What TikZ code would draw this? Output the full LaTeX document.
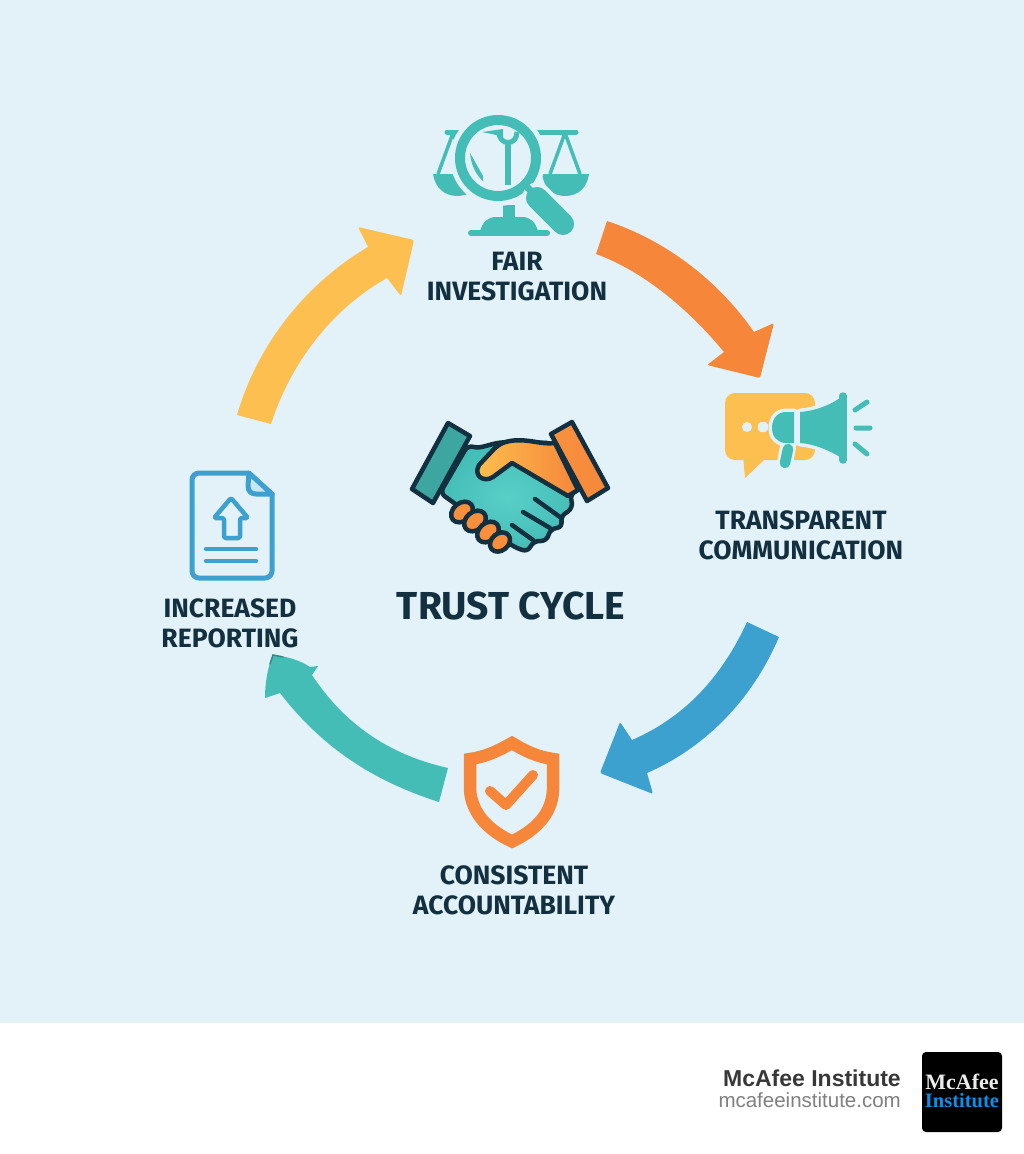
\documentclass[tikz,border=0pt]{standalone}
\usepackage{fontspec}
\setmainfont{Liberation Sans}
\newfontfamily\labelfont{Fira Sans}
\newfontfamily\logofont{Liberation Serif}
\definecolor{bgblue}{HTML}{E2F2F8}
\definecolor{ink}{HTML}{12303F}
\definecolor{teal}{HTML}{45BDB7}
\definecolor{tealhi}{HTML}{58D0C8}
\definecolor{sun}{HTML}{FDBF4F}
\definecolor{tang}{HTML}{F6873A}
\definecolor{sky}{HTML}{3CA1CF}
\definecolor{logoblue}{HTML}{0E8FE6}
\begin{document}
\begin{tikzpicture}[x=1pt,y=-1pt,
  lbl/.style={font=\labelfont\bfseries\fontsize{26.5}{30}\selectfont,text=ink,align=center,inner sep=0pt},
  hs/.style={draw=ink,line width=4.5pt,line join=round},
  finger/.style={hs,fill=tang!85!sun},
  halo/.style={draw=bgblue,line width=7pt,line join=round},
  ray/.style={draw=teal,line width=5pt,line cap=round}]
\useasboundingbox (0,0) rectangle (1024,1154);
\fill[bgblue] (0,0) rectangle (1024,1023);
\fill[white] (0,1023) rectangle (1024,1154);

% labels
\node[lbl] (fair) at (517,277) {FAIR\\INVESTIGATION};
\node[lbl] (transp) at (801,535) {TRANSPARENT\\COMMUNICATION};
\node[lbl] (consist) at (514,890) {CONSISTENT\\ACCOUNTABILITY};
\node[lbl] (incr) at (230,623) {INCREASED\\REPORTING};
\node[lbl,font=\labelfont\bfseries\fontsize{39}{42}\selectfont] (trust) at (511,606) {TRUST CYCLE};

% the four arrows
\coordinate (Ya) at (237,415); \coordinate (Yn) at (368,247); \coordinate (Yb) at (358,227); \coordinate (Yt) at (414,240);
\coordinate (Yc) at (401,296); \coordinate (Ym) at (387,278); \coordinate (Yz) at (271,424);
\fill[sun] (Ya) .. controls (262,330) and (320,275) .. (Yn) [rounded corners=2pt] -- (Yb) -- (Yt) -- (Yc) [sharp corners] -- (Ym) .. controls (330,310) and (290,365) .. (Yz) -- cycle;
\coordinate (Oa) at (607,221); \coordinate (On) at (754,332); \coordinate (Ob) at (774,323); \coordinate (Ot) at (760,378);
\coordinate (Oc) at (707,365); \coordinate (Om) at (724,352); \coordinate (Oz) at (596,254);
\fill[tang] (Oa) .. controls (665,240) and (718,280) .. (On) [rounded corners=2pt] -- (Ob) -- (Ot) -- (Oc) [sharp corners] -- (Om) .. controls (685,305) and (640,270) .. (Oz) -- cycle;
\coordinate (Ba) at (779,637); \coordinate (Bn) at (647,773); \coordinate (Bb) at (653,794); \coordinate (Bt) at (600,773);
\coordinate (Bc) at (620,722); \coordinate (Bm) at (632,740); \coordinate (Bz) at (747,622);
\fill[sky] (Ba) .. controls (750,705) and (700,750) .. (Bn) [rounded corners=2pt] -- (Bb) -- (Bt) -- (Bc) [sharp corners] -- (Bm) .. controls (690,715) and (725,670) .. (Bz) -- cycle;
\coordinate (Ta) at (439,802); \coordinate (Tn) at (280,693); \coordinate (Tb) at (265,698); \coordinate (Tt) at (273,655);
\coordinate (Tc) at (318,666); \coordinate (Tm) at (312,675); \coordinate (Tz) at (448,768);
\fill[teal] (Ta) .. controls (370,780) and (320,745) .. (Tn) -- (Tb) .. controls (265,682) and (268,666) .. (Tt) .. controls (285,656) and (300,660) .. (310,667) -- (Tc) -- (Tm) .. controls (345,725) and (390,755) .. (Tz) -- cycle;
\draw[teal!72!black,line width=1.5pt,line cap=round] (270,664) -- (Tt) -- (283,657);

% scales and magnifier
\draw[teal,line width=5pt,line cap=round] (447,132) -- (462,132) (537,132) -- (576,132);
\draw[teal,line width=3.5pt] (453,133) -- (438,174) (453,133) -- (468,174) (565,133) -- (550,174) (565,133) -- (580,174);
\fill[teal] (433,174) .. controls (435,188) and (445,196) .. (457,196) .. controls (470,196) and (480,188) .. (482,174) -- cycle;
\fill[teal] (542,174) .. controls (544,188) and (553,196) .. (565,196) .. controls (578,196) and (587,188) .. (589,174) -- cycle;
\fill[teal] (503,205) rectangle (515,222);
\fill[teal] (480,232) .. controls (482,222) and (488,217) .. (496,217) -- (522,217) .. controls (530,217) and (536,222) .. (538,232) -- cycle;
\draw[teal,line width=6pt,line cap=round] (471,233) -- (547,233);
\fill[bgblue] (498,158) circle (48);
\draw[teal,line width=10pt] (498,158) circle (38);
\draw[bgblue,line width=29pt,line cap=round] (537,197) -- (563,224);
\draw[teal,line width=7pt] (526,186) -- (538,198);
\draw[teal,line width=22pt,line cap=round] (537,198) -- (563,224);
\draw[teal,line width=5.5pt] (508,143) -- (508,185);
\draw[teal,line width=5pt] (499,132) .. controls (499,146) and (517,146) .. (517,132);
\fill[teal] (482,132) -- (503,129) -- (503,137) -- (492,134) -- cycle;
\fill[teal] (470,153) -- (483,176) -- (483,181) .. controls (476,175) and (471,165) .. (470,153) -- cycle;

% megaphone and bubble
\fill[sun,rounded corners=10pt] (725,393) rectangle (815,460);
\fill[sun] (743,455) -- (745,478) -- (766,458) -- cycle;
\fill[bgblue] (747,427) circle (5);
\path[halo,fill=bgblue] (763,427) circle (2);
\path[halo,fill=bgblue] (772,428) .. controls (772,418) and (778,412) .. (786,412) -- (794,412) -- (794,443) -- (786,443) .. controls (778,443) and (772,437) .. (772,428) -- cycle;
\path[halo,fill=bgblue] (800,412) .. controls (815,411) and (830,405) .. (840,398) -- (840,457) .. controls (830,451) and (815,444) .. (800,443) -- cycle;
\draw[bgblue,line width=16pt,line cap=round] (788,447) -- (785,463);
\fill[teal] (772,428) .. controls (772,418) and (778,412) .. (786,412) -- (794,412) -- (794,443) -- (786,443) .. controls (778,443) and (772,437) .. (772,428) -- cycle;
\fill[teal] (800,412) .. controls (815,411) and (830,405) .. (840,398) -- (840,457) .. controls (830,451) and (815,444) .. (800,443) -- cycle;
\draw[teal,line width=7.5pt,line cap=round] (843,396) -- (843,460);
\draw[teal,line width=10.5pt,line cap=round] (788,449) -- (785,463);
\draw[ray] (855,410) -- (867,402) (856,428) -- (870,428) (855,444) -- (867,454);

% document
\draw[sky,line width=5pt,line join=round,rounded corners=7pt] (249,473) -- (192,473) -- (192,578) -- (272,578) -- (272,493);
\draw[sky,line width=5pt,line join=round,fill=bgblue!85!sky] (249,473) -- (272,494) -- (256,494) .. controls (251,494) and (248,491) .. (248,486) -- cycle;
\draw[sky,line width=4.5pt,line join=round,rounded corners=1.5pt] (231,498) -- (214,518) -- (224,518) -- (224,538) -- (240,538) -- (240,518) -- (248,518) -- cycle;
\draw[sky,line width=4.5pt,line cap=round] (206,549) -- (256,549) (206,561) -- (256,561);

% shield
\draw[tang,line width=12.5pt,line join=miter] (512,743) .. controls (498,751) and (485,757) .. (470,759) -- (470,790) .. controls (472,815) and (490,831) .. (512,841.5) .. controls (534,831) and (552,815) .. (553,790) -- (553,759) .. controls (538,757) and (525,751) .. (512,743) -- cycle;
\draw[tang,line width=10pt,line cap=round,line join=round] (490,791) -- (506,805) -- (533,775);

% handshake
\draw[hs,inner color=tealhi,outer color=teal,rounded corners=6pt] (468,445) .. controls (480,449) and (490,444) .. (505,442) -- (552,443) -- (578,490) -- (570,494) -- (573,508) -- (560,517) -- (563,527) -- (550,529) -- (547,541) -- (533,541) -- (528,552) -- (514,547) -- (450,500) -- (440,493) -- cycle;
\draw[hs,left color=sun,right color=tang] (555,443) .. controls (540,445) and (528,438) .. (510,441) .. controls (503,442) and (498,445) .. (494,449) -- (479,465) .. controls (473,476) and (484,483) .. (493,477) -- (512,463) -- (568,496) -- (578,490) -- cycle;
\draw[hs,fill=teal!88!black] (448,423) -- (470,436) -- (433,503) -- (412,489) -- cycle;
\draw[hs,left color=tang!80!sun,right color=tang] (572,422) -- (608,488) -- (587,501) -- (551,434) -- cycle;
\draw[finger,rotate around={40:(462,512)}] (462,512) ellipse [x radius=12,y radius=9];
\draw[finger,rotate around={40:(475,521)}] (475,521) ellipse [x radius=12,y radius=9];
\draw[finger,rotate around={40:(488,532)}] (488,532) ellipse [x radius=12,y radius=9];
\draw[finger,rotate around={40:(500,542)}] (500,542) ellipse [x radius=11,y radius=8.5];
\draw[ink,line width=4.5pt,line cap=round] (535,499) -- (560,517) (523,512) -- (550,528) (512,525) -- (533,540);

% footer
\node[anchor=east,inner sep=0pt,text=black!78,font=\bfseries\fontsize{23}{26}\selectfont] (brand) at (901,1078) {McAfee Institute};
\node[anchor=east,inner sep=0pt,text=black!50,font=\fontsize{20.5}{22}\selectfont] (site) at (901,1100) {mcafeeinstitute.com};
\fill[black,rounded corners=4pt] (922,1052) rectangle (1002,1132);
\node[inner sep=0pt,align=center,text=white!92!black,font=\logofont\bfseries\fontsize{22}{18}\selectfont] (logo) at (962,1091) {McAfee\\{\color{logoblue}\fontsize{20.5}{18}\selectfont Institute}};
\end{tikzpicture}
\end{document}
